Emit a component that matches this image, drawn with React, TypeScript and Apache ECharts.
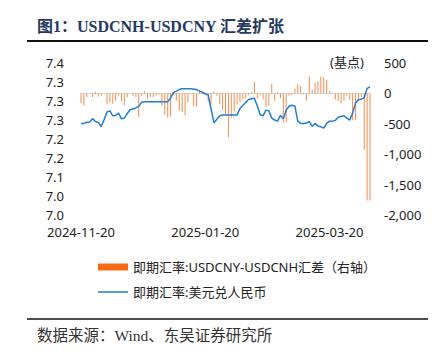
import React, { useEffect, useRef } from "react";
import * as echarts from "echarts";

const startDate = "2024-11-20";
const endDate = "2025-04-09";
const labelDates = ["2024-11-20", "2025-01-20", "2025-03-20"];

const rateValues = [
  7.241, 7.241, 7.244, 7.245, 7.254, 7.246, 7.243, 7.233, 7.251, 7.271,
  7.274, 7.261, 7.262, 7.268, 7.253, 7.255, 7.267, 7.277, 7.279, 7.282,
  7.286, 7.297, 7.298, 7.298, 7.298, 7.298, 7.298, 7.298, 7.298, 7.298,
  7.298, 7.308, 7.322, 7.326, 7.330, 7.332, 7.332, 7.332, 7.332, 7.331,
  7.330, 7.326, 7.323, 7.319, 7.316, 7.279, 7.243, 7.252, 7.261, 7.263,
  7.263, 7.263, 7.263, 7.263, 7.263, 7.280, 7.288, 7.296, 7.304, 7.306,
  7.307, 7.287, 7.264, 7.261, 7.276, 7.274, 7.255, 7.250, 7.247, 7.262,
  7.253, 7.276, 7.286, 7.289, 7.287, 7.247, 7.241, 7.241, 7.242, 7.246,
  7.233, 7.241, 7.234, 7.232, 7.229, 7.241, 7.247, 7.247, 7.249, 7.257,
  7.259, 7.261, 7.255, 7.250, 7.268, 7.295, 7.303, 7.305, 7.309, 7.333,
  7.337,
];

const spreadValues = [
  -160, -200, -60, 0, -60, 25, -50, -40, 0, -170,
  -150, -170, -120, -30, -130, -200, -60, 0, -40, -60,
  -390, -40, 35, -90, -60, -60, -40, -20, -200, -350,
  -400, -380, -30, -120, -280, -300, -360, -150, -10, -210,
  -220, 40, 10, -30, -130, -170, 30, -40, -180, -270,
  -350, -720, -400, -300, -180, -140, -100, -80, -30, 20,
  190, -80, -30, -100, -220, -200, 160, -120, 20, -80,
  -480, -480, -40, -30, 80, 150, 120, -20, -120, 280,
  60, 170, 200, 280, 260, 220, 40, 10, -100, -130,
  -160, -120, -40, -110, -440, -440, -120, -60, -930, -1760,
  -1760,
];

const seriesNames = ["即期汇率:USDCNY-USDCNH汇差（右轴）", "即期汇率:美元兑人民币"];

const barColor = "#F3752C";
const legendBarColor = "#F86A14";
const lineColor = "#1F7FD6";

function weekdays(from: string, to: string): string[] {
  const out: string[] = [];
  const d = new Date(from + "T00:00:00Z");
  const end = new Date(to + "T00:00:00Z");
  while (d <= end) {
    const wd = d.getUTCDay();
    if (wd !== 0 && wd !== 6) out.push(d.toISOString().slice(0, 10));
    d.setUTCDate(d.getUTCDate() + 1);
  }
  return out;
}

const categories = weekdays(startDate, endDate);

export default function App() {
  const ref = useRef<HTMLDivElement>(null);
  useEffect(() => {
    if (!ref.current) return;
    const chart = echarts.init(ref.current, undefined, { renderer: "svg" });
    const sans = "'Noto Sans', 'Noto Sans CJK SC', sans-serif";
    const serif = "'Liberation Serif', 'Noto Sans CJK SC', serif";
    chart.setOption({
      animation: false,
      backgroundColor: "#ffffff",
      grid: { left: 81, right: 73, top: 63, bottom: 138, containLabel: false },
      xAxis: {
        type: "category",
        data: categories,
        boundaryGap: false,
        axisLine: { lineStyle: { color: "#d9d9d9", width: 1 } },
        axisTick: { show: false },
        axisLabel: {
          interval: (i: number, v: string) => labelDates.includes(v),
          color: "#222",
          fontSize: 13,
          fontFamily: sans,
          margin: 10,
        },
        splitLine: { show: false },
      },
      yAxis: [
        {
          type: "value",
          min: 7.0,
          max: 7.4,
          interval: 0.05,
          position: "left",
          axisLine: { show: false },
          axisTick: { show: false },
          splitLine: { show: false },
          axisLabel: {
            formatter: (v: number) => v.toFixed(1),
            color: "#222",
            fontSize: 13,
            fontFamily: sans,
            margin: 17,
          },
        },
        {
          type: "value",
          min: -2000,
          max: 500,
          interval: 500,
          position: "right",
          axisLine: { show: false },
          axisTick: { show: false },
          splitLine: { show: false },
          axisLabel: {
            formatter: (v: number) => v.toLocaleString("en-US"),
            color: "#222",
            fontSize: 13,
            fontFamily: sans,
            margin: 14,
          },
        },
      ],
      series: [
        {
          name: seriesNames[0],
          type: "bar",
          yAxisIndex: 1,
          data: spreadValues,
          barWidth: 1,
          itemStyle: { color: barColor, opacity: 0.85 },
        },
        {
          name: seriesNames[1],
          type: "line",
          yAxisIndex: 0,
          data: rateValues,
          symbol: "none",
          lineStyle: { color: lineColor, width: 1.5 },
        },
      ],
      graphic: [
        {
          type: "text",
          left: 37,
          top: 18,
          style: {
            text: "图1：USDCNH-USDCNY 汇差扩张",
            font: `bold 16px ${serif}`,
            fill: "#233a5e",
          },
        },
        {
          type: "line",
          shape: { x1: 27, y1: 41, x2: 428, y2: 41 },
          style: { stroke: "#111", lineWidth: 2 },
        },
        {
          type: "text",
          left: 330,
          top: 55,
          style: { text: "(基点)", font: `13px ${sans}`, fill: "#222" },
        },
        {
          type: "rect",
          shape: { x: 98, y: 263.5, width: 30, height: 7 },
          style: { fill: legendBarColor },
        },
        {
          type: "text",
          x: 133,
          y: 267,
          style: {
            text: seriesNames[0],
            font: `13px ${sans}`,
            fill: "#222",
            verticalAlign: "middle",
          },
        },
        {
          type: "line",
          shape: { x1: 98, y1: 292, x2: 128, y2: 292 },
          style: { stroke: lineColor, lineWidth: 1.5 },
        },
        {
          type: "text",
          x: 133,
          y: 292,
          style: {
            text: seriesNames[1],
            font: `13px ${sans}`,
            fill: "#222",
            verticalAlign: "middle",
          },
        },
        {
          type: "line",
          shape: { x1: 27, y1: 319, x2: 428, y2: 319 },
          style: { stroke: "#111", lineWidth: 1.5 },
        },
        {
          type: "text",
          x: 37,
          y: 335,
          style: {
            text: "数据来源：Wind、东吴证券研究所",
            font: `15.5px ${serif}`,
            fill: "#333",
            verticalAlign: "middle",
          },
        },
      ],
    });
    return () => chart.dispose();
  }, []);
  return (
    <div
      ref={ref}
      style={{ position: "absolute", left: 0, top: 0, width: 443, height: 353 }}
    />
  );
}
